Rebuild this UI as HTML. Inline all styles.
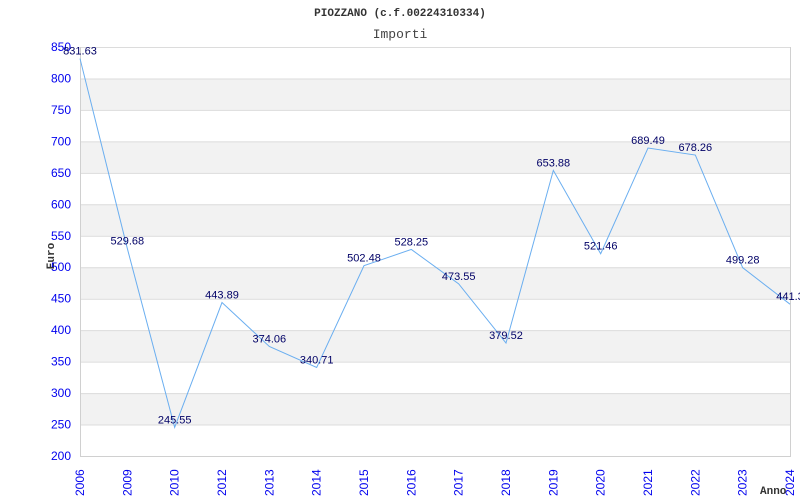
<!DOCTYPE html>
<html><head><meta charset="utf-8"><style>
body{margin:0;background:#fff}
svg{display:block}
.tk{font:12px "Liberation Sans",sans-serif;fill:#0000ee}
.vl{font:11px "Liberation Sans",sans-serif;fill:#000066}
</style></head><body>
<svg id="c" width="800" height="500">
<text x="400" y="16" text-anchor="middle" style="font:bold 11px 'Liberation Mono',monospace;fill:#333">PIOZZANO (c.f.00224310334)</text>
<text x="400" y="38" text-anchor="middle" style="font:13px 'Liberation Mono',monospace;fill:#444">Importi</text>
<text transform="translate(54,256) rotate(-90)" text-anchor="middle" style="font:bold 11px 'Liberation Mono',monospace;fill:#333">Euro</text>
<text x="760" y="494" style="font:bold 11px 'Liberation Mono',monospace;fill:#333">Anno</text>
</svg>
<script>
const categories=["2006","2009","2010","2012","2013","2014","2015","2016","2017","2018","2019","2020","2021","2022","2023","2024"];
const values=[831.63,529.68,245.55,443.89,374.06,340.71,502.48,528.25,473.55,379.52,653.88,521.46,689.49,678.26,499.28,441.3];
const labels=["831.63","529.68","245.55","443.89","374.06","340.71","502.48","528.25","473.55","379.52","653.88","521.46","689.49","678.26","499.28","441.3"];
const yTicks=[200,250,300,350,400,450,500,550,600,650,700,750,800,850];
const svg=document.getElementById('c');const NS='http://www.w3.org/2000/svg';
const L=80,R=790,T=47,B=456,ymin=200,ymax=850;
const y=v=>B-(v-ymin)/(ymax-ymin)*(B-T);
const x=i=>L+i*(R-L)/(categories.length-1);
function mk(t,a){const e=document.createElementNS(NS,t);for(const k in a)e.setAttribute(k,a[k]);svg.appendChild(e);return e;}
for(let i=0;i<yTicks.length-1;i++){
 if(i%2==1){const b=mk('rect',{x:L,y:y(yTicks[i+1]),width:R-L,height:y(yTicks[i])-y(yTicks[i+1]),fill:'#f2f2f2'});
 
 }
}
yTicks.forEach(v=>{
 const g=mk('line',{x1:L,x2:R,y1:y(v)+.5,y2:y(v)+.5,stroke:'#dcdcdc'});
 
 
 const t=mk('text',{x:L-9,y:y(v)+4,'text-anchor':'end',class:'tk'});t.textContent=v;
 
 
});
const ax=mk('path',{d:`M${L+.5},${T}V${B+.5}H${R+.5}V${T}`,fill:'none',stroke:'#d0d0d0'});


categories.forEach((c,i)=>{
 const t=mk('text',{transform:`translate(${x(i)+4},${B+40}) rotate(-90)`,class:'tk'});t.textContent=c;
 
 
});
const ln=mk('polyline',{points:values.map((v,i)=>x(i)+','+y(v)).join(' '),fill:'none',stroke:'#6aaef0','stroke-width':1});


values.forEach((v,i)=>{
 const t=mk('text',{x:x(i),y:y(v)-4,'text-anchor':'middle',class:'vl'});t.textContent=labels[i];
 
 
});
</script>
</body></html>
